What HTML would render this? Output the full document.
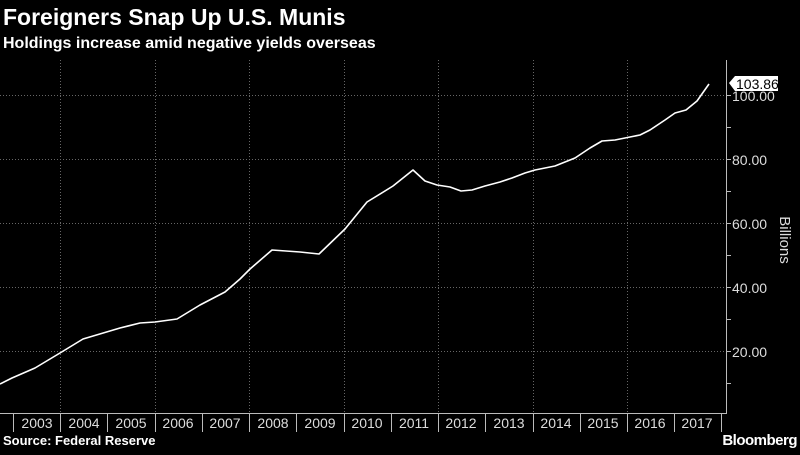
<!DOCTYPE html>
<html><head><style>
html,body{margin:0;padding:0;background:#000;}
body{width:800px;height:450px;overflow:hidden;font-family:"Liberation Sans",sans-serif;}
</style></head><body>
<svg width="800" height="450" xmlns="http://www.w3.org/2000/svg" font-family="Liberation Sans, sans-serif">
<rect width="800" height="450" fill="#000"/>
<text x="3" y="25" fill="#fff" font-size="23" font-weight="bold">Foreigners Snap Up U.S. Munis</text>
<text x="3" y="48" fill="#fff" font-size="16" font-weight="bold">Holdings increase amid negative yields overseas</text>
<g stroke="#666" stroke-width="1" stroke-dasharray="1,2">
<line x1="0" x2="726" y1="95.5" y2="95.5"/>
<line x1="0" x2="726" y1="159.5" y2="159.5"/>
<line x1="0" x2="726" y1="223.5" y2="223.5"/>
<line x1="0" x2="726" y1="287.5" y2="287.5"/>
<line x1="0" x2="726" y1="351.5" y2="351.5"/>
<line x1="60.5" x2="60.5" y1="60" y2="413"/>
<line x1="155.5" x2="155.5" y1="60" y2="413"/>
<line x1="249.5" x2="249.5" y1="60" y2="413"/>
<line x1="344.5" x2="344.5" y1="60" y2="413"/>
<line x1="438.5" x2="438.5" y1="60" y2="413"/>
<line x1="533.5" x2="533.5" y1="60" y2="413"/>
<line x1="627.5" x2="627.5" y1="60" y2="413"/>
</g>
<line x1="726.5" x2="726.5" y1="60" y2="413" stroke="#bbb"/>
<line x1="0" x2="727" y1="413.5" y2="413.5" stroke="#bbb"/>
<g stroke="#bbb">
<line x1="726" x2="731" y1="95.5" y2="95.5"/><line x1="726" x2="731" y1="127.5" y2="127.5"/>
<line x1="726" x2="731" y1="159.5" y2="159.5"/><line x1="726" x2="731" y1="191.5" y2="191.5"/>
<line x1="726" x2="731" y1="223.5" y2="223.5"/><line x1="726" x2="731" y1="255.5" y2="255.5"/>
<line x1="726" x2="731" y1="287.5" y2="287.5"/><line x1="726" x2="731" y1="319.5" y2="319.5"/>
<line x1="726" x2="731" y1="351.5" y2="351.5"/><line x1="726" x2="731" y1="383.5" y2="383.5"/>
<line x1="13.5" x2="13.5" y1="413" y2="432"/><line x1="60.5" x2="60.5" y1="413" y2="432"/>
<line x1="107.5" x2="107.5" y1="413" y2="432"/><line x1="155.5" x2="155.5" y1="413" y2="432"/>
<line x1="202.5" x2="202.5" y1="413" y2="432"/><line x1="249.5" x2="249.5" y1="413" y2="432"/>
<line x1="296.5" x2="296.5" y1="413" y2="432"/><line x1="344.5" x2="344.5" y1="413" y2="432"/>
<line x1="391.5" x2="391.5" y1="413" y2="432"/><line x1="438.5" x2="438.5" y1="413" y2="432"/>
<line x1="485.5" x2="485.5" y1="413" y2="432"/><line x1="533.5" x2="533.5" y1="413" y2="432"/>
<line x1="580.5" x2="580.5" y1="413" y2="432"/><line x1="627.5" x2="627.5" y1="413" y2="432"/>
<line x1="674.5" x2="674.5" y1="413" y2="432"/><line x1="721.5" x2="721.5" y1="413" y2="432"/>
</g>
<g fill="#ddd" font-size="14" text-anchor="middle">
<text x="37" y="428">2003</text><text x="84" y="428">2004</text><text x="131" y="428">2005</text>
<text x="178" y="428">2006</text><text x="225" y="428">2007</text><text x="273" y="428">2008</text>
<text x="320" y="428">2009</text><text x="367" y="428">2010</text><text x="414" y="428">2011</text>
<text x="461" y="428">2012</text><text x="509" y="428">2013</text><text x="556" y="428">2014</text>
<text x="603" y="428">2015</text><text x="650" y="428">2016</text><text x="697" y="428">2017</text>
</g>
<g fill="#ddd" font-size="14">
<text x="732" y="101">100.00</text><text x="732" y="165">80.00</text><text x="732" y="229">60.00</text>
<text x="732" y="293">40.00</text><text x="732" y="357">20.00</text>
</g>
<text transform="translate(780,240) rotate(90)" fill="#ddd" font-size="15" text-anchor="middle">Billions</text>
<polyline fill="none" stroke="#fff" stroke-width="1.6" stroke-linejoin="round" points="0,384 12,378 35,368 60,353 83,339 120,328 140,323 155,322 177,319 200,305 225,292 240,279 250,269 272,250 300,252 319,254 345,229 367,202 393,186 413,170 425,181 437,185 450,187 461,191 472,190 485,186 500,182 512,178 525,173 535,170 555,166 575,158 590,148 602,141 615,140 630,137 640,135 650,130 665,120 675,113 686,110 697,101 709,84"/>
<path d="M729,83 L735,76 L778,76 L778,91 L735,91 Z" fill="#fff"/>
<text x="736" y="89" fill="#000" font-size="14">103.86</text>
<text x="3" y="445" fill="#fff" font-size="13" font-weight="bold">Source: Federal Reserve</text>
<text x="797" y="445" fill="#fff" font-size="15" font-weight="bold" text-anchor="end" letter-spacing="-0.5">Bloomberg</text>
</svg>
</body></html>
